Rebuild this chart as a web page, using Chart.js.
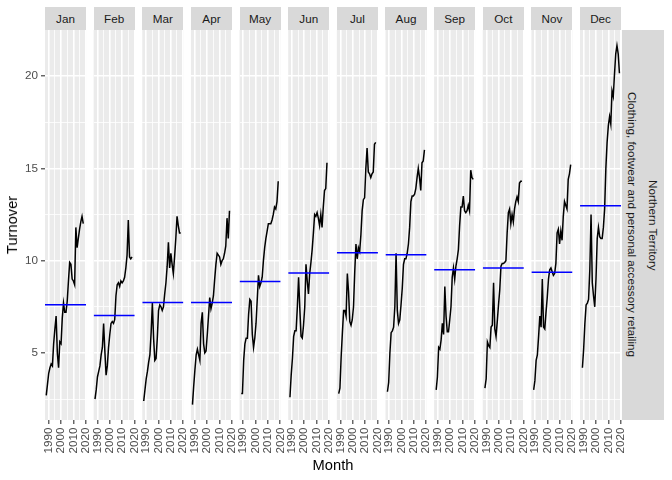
<!DOCTYPE html>
<html>
<head>
<meta charset="utf-8">
<script src="https://cdn.jsdelivr.net/npm/chart.js@4.4.1/dist/chart.umd.min.js"></script>
<style>
  body { margin: 0; background: #fff; font-family: "Liberation Sans", Arial, sans-serif; }
  #wrap { position: relative; width: 672px; height: 480px; overflow: hidden; }
  canvas { position: absolute; left: 0; top: 0; }
  .strip { position: absolute; background: #d9d9d9; color: #1a1a1a; font-size: 11.7px;
           display: flex; align-items: center; justify-content: center; white-space: nowrap; }
  .vtext { writing-mode: vertical-rl; }
  .title { position: absolute; color: #000; font-size: 14.7px; white-space: nowrap;
           transform: translate(-50%, -50%); }
</style>
</head>
<body>
<div id="wrap"></div>
<script>
const months = ['Jan','Feb','Mar','Apr','May','Jun','Jul','Aug','Sep','Oct','Nov','Dec'];
const years = [1988,1989,1990,1991,1992,1993,1994,1995,1996,1997,1998,1999,2000,2001,2002,2003,
               2004,2005,2006,2007,2008,2009,2010,2011,2012,2013,2014,2015,2016,2017,2018];

// Turnover ($ million) per month, one value per year 1988..2018
const jan = [2.7,3.3,3.9,4.2,4.4,4.3,5.5,6.3,7.0,5.0,4.2,5.6,5.5,6.9,7.7,7.2,7.2,7.8,8.9,9.9,9.8,9.0,8.9,8.7,11.8,10.7,11.2,11.7,12.1,12.4,12.0];
const feb = [2.5,3.0,3.7,4.0,4.3,4.9,5.3,6.6,5.1,3.8,4.3,5.3,6.0,6.6,6.7,6.6,6.8,8.1,8.7,8.8,8.6,8.9,8.8,8.9,9.1,9.6,10.3,12.2,10.2,10.1,10.2];
const mar = [2.4,3.0,3.6,4.0,4.5,4.9,6.1,7.7,5.8,4.6,4.7,5.8,7.3,7.6,7.5,7.3,7.5,8.2,8.8,9.7,11.0,9.6,10.4,9.8,9.3,10.2,11.2,12.4,11.9,11.5,11.5];
const apr = [2.2,3.2,4.1,4.9,5.2,4.9,4.6,6.6,7.2,5.5,5.0,5.1,6.0,7.0,8.0,7.4,7.7,8.1,9.0,9.8,10.4,10.3,10.2,9.8,10.0,10.1,10.4,10.8,12.3,11.2,12.7];
const may = [2.8,2.8,4.6,5.5,5.8,5.8,7.1,7.9,7.8,6.0,5.3,5.8,6.6,7.9,9.2,8.6,8.8,9.1,10.0,10.7,11.2,11.6,12.0,12.0,12.0,12.2,12.5,12.9,12.8,13.2,14.3];
const jun = [2.6,3.8,4.7,5.9,6.2,6.2,7.5,9.1,7.4,5.9,5.8,6.5,7.5,9.8,8.9,8.2,9.3,9.9,10.6,11.5,12.5,12.4,12.6,12.3,11.9,12.5,11.8,12.9,13.8,13.9,15.3];
const jul = [2.8,3.1,4.8,6.1,7.3,7.3,7.0,9.3,8.3,6.7,6.5,6.8,7.5,9.4,10.9,10.1,10.7,10.5,11.4,12.7,13.3,13.4,15.0,16.1,14.8,14.7,14.5,14.7,14.8,16.3,16.4];
const aug = [2.9,3.4,5.0,6.1,6.2,6.4,7.5,10.4,7.3,6.6,6.8,7.6,8.5,9.8,10.1,10.1,10.4,10.9,11.8,13.2,13.5,13.5,13.6,13.9,14.5,15.0,14.5,13.8,15.3,15.4,16.0];
const sep = [3.0,3.7,5.3,5.2,5.7,6.6,6.0,8.6,7.0,6.15,6.15,6.8,7.5,9.1,9.6,9.0,9.7,10.1,10.6,11.9,12.9,12.9,13.5,12.7,12.6,12.7,13.0,12.7,14.9,14.5,14.4];
const oct = [3.1,3.6,5.6,5.4,5.3,6.4,6.5,8.8,6.3,5.9,6.7,7.6,8.4,9.7,9.85,9.85,9.9,10.0,11.5,12.6,12.8,12.0,12.5,12.1,12.8,13.2,13.45,13.2,14.2,14.3,14.3];
const nov = [3.0,3.5,4.6,4.9,5.9,7.0,6.4,9.0,6.4,6.3,7.2,8.0,9.0,9.5,9.6,9.4,9.2,9.3,9.85,11.5,11.7,10.9,11.6,11.1,12.4,13.2,13.0,12.8,14.4,14.7,15.2];
const dec = [4.2,5.2,6.6,7.6,7.7,7.9,9.5,12.5,8.8,8.1,7.5,9.0,11.2,11.8,11.3,11.2,11.2,11.8,12.8,15.0,16.4,17.3,17.8,17.4,19.2,18.9,20.1,21.2,21.65,21.2,20.15];
const series = [jan, feb, mar, apr, may, jun, jul, aug, sep, oct, nov, dec];

const xTicks = [1990, 1995, 2000, 2005, 2010, 2015, 2020];
const yTicks = [2.5, 5, 7.5, 10, 12.5, 15, 17.5, 20];
const rowLabels = ['Clothing, footwear and personal accessory retailing', 'Northern Territory'];

const X_MIN = 1987.0, X_MAX = 2020.3;
const Y_MIN = 1.37, Y_MAX = 22.49;
const W = 672, H = 480;
const PANEL_LEFT0 = 45, PANEL_PITCH = 48.64, PANEL_W = 41.1;
const PANEL_TOP = 30, PANEL_BOTTOM = 420;
const FONT = '"Liberation Sans", Arial, sans-serif';

const wrap = document.getElementById('wrap');

function addDiv(cls, text, css) {
  const d = document.createElement('div');
  d.className = cls;
  d.textContent = text;
  Object.assign(d.style, css);
  wrap.appendChild(d);
  return d;
}

const panelBg = {
  id: 'panelBg',
  beforeDraw(chart) {
    const a = chart.chartArea;
    const ctx = chart.ctx;
    ctx.save();
    ctx.fillStyle = '#ebebeb';
    ctx.fillRect(a.left, a.top, a.right - a.left, a.bottom - a.top);
    ctx.restore();
  }
};

const isMajorX = c => c.tick && c.tick.value % 10 === 0;
const isMajorY = c => c.tick && c.tick.value % 5 === 0;

series.forEach((vals, i) => {
  const left = PANEL_LEFT0 + i * PANEL_PITCH;
  const right = left + PANEL_W;
  const first = i === 0;
  const mean = vals.reduce((s, v) => s + v, 0) / vals.length;

  const canvas = document.createElement('canvas');
  canvas.width = W; canvas.height = H;
  canvas.style.width = W + 'px'; canvas.style.height = H + 'px';
  wrap.appendChild(canvas);

  new Chart(canvas, {
    type: 'line',
    data: {
      datasets: [
        { data: [{ x: X_MIN, y: mean }, { x: X_MAX, y: mean }],
          borderColor: '#0000ff', borderWidth: 1.5, pointRadius: 0 },
        { data: years.map((y, k) => ({ x: y + i / 12, y: vals[k] })),
          borderColor: '#000', borderWidth: 1.5, pointRadius: 0, tension: 0 }
      ]
    },
    options: {
      responsive: false, animation: false, devicePixelRatio: 1,
      layout: { padding: { left: first ? 0 : left, right: W - right, top: PANEL_TOP, bottom: 0 } },
      plugins: { legend: { display: false }, tooltip: { enabled: false } },
      scales: {
        x: {
          type: 'linear', min: X_MIN, max: X_MAX,
          afterBuildTicks: s => { s.ticks = xTicks.map(v => ({ value: v })); },
          afterFit: s => { s.height = H - PANEL_BOTTOM; },
          border: { display: false },
          grid: {
            color: '#fff',
            lineWidth: c => isMajorX(c) ? 1.6 : 0.8,
            tickLength: 4, tickWidth: 1.1,
            tickColor: c => isMajorX(c) ? '#333' : 'rgba(0,0,0,0)'
          },
          ticks: {
            autoSkip: false, minRotation: 90, maxRotation: 90, padding: 3.5,
            color: '#4d4d4d', font: { size: 11.7, family: FONT },
            callback: v => v % 10 === 0 ? String(v) : ''
          }
        },
        y: {
          type: 'linear', min: Y_MIN, max: Y_MAX,
          afterBuildTicks: s => { s.ticks = yTicks.map(v => ({ value: v })); },
          afterFit: s => { s.width = first ? PANEL_LEFT0 : 0; },
          border: { display: false },
          grid: {
            color: '#fff',
            lineWidth: c => isMajorY(c) ? 1.6 : 0.8,
            drawTicks: first, tickLength: 4, tickWidth: 1.1,
            tickColor: c => isMajorY(c) ? '#333' : 'rgba(0,0,0,0)'
          },
          ticks: {
            display: first, padding: 3,
            color: '#4d4d4d', font: { size: 11.7, family: FONT },
            callback: v => v % 5 === 0 ? String(v) : ''
          }
        }
      }
    },
    plugins: [panelBg]
  });

  addDiv('strip', months[i], { left: left + 'px', top: '7px', width: PANEL_W + 'px', height: '22.5px' });
});

// right-hand row strips
const stripLeft = PANEL_LEFT0 + 11 * PANEL_PITCH + PANEL_W + 0.6;
rowLabels.forEach((lab, k) => {
  addDiv('strip vtext', lab, {
    left: (stripLeft + k * 21) + 'px', top: PANEL_TOP + 'px',
    width: '21px', height: (PANEL_BOTTOM - PANEL_TOP) + 'px'
  });
});

addDiv('title', 'Turnover', { left: '12px', top: '225px', transform: 'translate(-50%,-50%) rotate(-90deg)' });
addDiv('title', 'Month', { left: '333px', top: '465px' });
</script>
</body>
</html>
